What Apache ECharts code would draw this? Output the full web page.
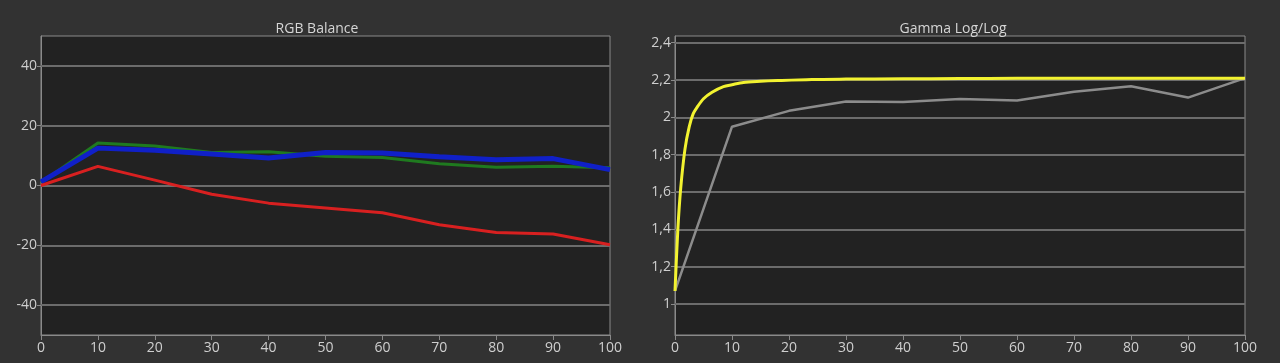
<!DOCTYPE html>
<html><head><meta charset="utf-8">
<script src="https://cdn.jsdelivr.net/npm/echarts@6/dist/echarts.min.js"></script>
<style>html,body{margin:0;padding:0;background:#323232;}#c{width:1280px;height:363px;}</style>
</head><body><div id="c"></div>
<script>
// ---- data ----
const xLevels = [0, 10, 20, 30, 40, 50, 60, 70, 80, 90, 100];
const rgbRed   = [0, 6.4, 1.8, -2.9, -5.9, -7.5, -9.1, -13.1, -15.7, -16.2, -19.8];
const rgbGreen = [1, 14.2, 13.2, 11.0, 11.3, 9.8, 9.4, 7.3, 6.1, 6.4, 5.9];
const rgbBlue  = [1.2, 12.5, 11.8, 10.5, 9.2, 11.0, 10.9, 9.6, 8.6, 9.0, 5.3];
const rgbTicks = [-40, -20, 0, 20, 40];
const gammaMeasured = [1.07, 1.95, 2.035, 2.085, 2.083, 2.098, 2.09, 2.137, 2.167, 2.106, 2.21];
const gammaRefX = [0, 0.5, 1, 1.75, 2.5, 3.2, 4, 5, 6.5, 8.5, 10, 12, 15, 18, 24, 30, 40, 50, 60, 70, 80, 90, 100];
const gammaRefY = [1.07, 1.40, 1.62, 1.83, 1.95, 2.02, 2.06, 2.10, 2.135, 2.165, 2.175, 2.187, 2.193, 2.197, 2.203, 2.205, 2.207, 2.208, 2.209, 2.21, 2.21, 2.21, 2.21];
const gammaTicks = [1, 1.2, 1.4, 1.6, 1.8, 2, 2.2, 2.4];
const titles = ['RGB Balance', 'Gamma Log/Log'];

// ---- chart ----
const labelColor = '#cfcfcf';
const font = '"Open Sans", "Noto Sans", sans-serif';
const gridLine = '#6c6c6c';
function xAxis(gi) {
  return {
    type: 'value', gridIndex: gi, min: 0, max: 100, interval: 10,
    axisLine: { show: true, onZero: false, lineStyle: { color: '#8a8a8a', width: 1 } },
    axisTick: { show: true, length: 5, lineStyle: { color: '#8a8a8a' } },
    axisLabel: { color: labelColor, fontSize: 14, fontFamily: font, margin: 6 },
    splitLine: { show: false }
  };
}
function gridLines(ticks, xi) {
  return {
    type: 'line', xAxisIndex: xi, yAxisIndex: xi, data: [], silent: true,
    markLine: {
      z: 1, silent: true, symbol: ['none', 'none'], label: { show: false },
      lineStyle: { color: gridLine, width: 2, type: 'solid' },
      emphasis: { disabled: true },
      data: ticks.map(t => ({ yAxis: t }))
    }
  };
}
const chart = echarts.init(document.getElementById('c'));
chart.setOption({
  backgroundColor: '#323232',
  animation: false,
  title: [
    { text: titles[0], left: 312, top: 17, textAlign: 'center',
      textStyle: { color: '#d6d6d6', fontSize: 14, fontWeight: 'normal', fontFamily: font } },
    { text: titles[1], left: 948, top: 17, textAlign: 'center',
      textStyle: { color: '#d6d6d6', fontSize: 14, fontWeight: 'normal', fontFamily: font } }
  ],
  grid: [
    { left: 41, right: 670, top: 36, bottom: 28, show: true, backgroundColor: '#222222', borderColor: '#8a8a8a', borderWidth: 1 },
    { left: 675, right: 35, top: 36, bottom: 28, show: true, backgroundColor: '#222222', borderColor: '#8a8a8a', borderWidth: 1 }
  ],
  xAxis: [xAxis(0), xAxis(1)],
  yAxis: [
    { type: 'value', gridIndex: 0, min: -50, max: 50,
      axisLine: { show: true, onZero: false, lineStyle: { color: '#8a8a8a' } },
      axisTick: { show: true, length: 4, customValues: rgbTicks, lineStyle: { color: '#8a8a8a' } },
      axisLabel: { color: labelColor, fontSize: 14, fontFamily: font, margin: 4, customValues: rgbTicks },
      splitLine: { show: false } },
    { type: 'value', gridIndex: 1, min: 0.834, max: 2.436,
      axisLine: { show: true, onZero: false, lineStyle: { color: '#8a8a8a' } },
      axisTick: { show: true, length: 4, customValues: gammaTicks, lineStyle: { color: '#8a8a8a' } },
      axisLabel: { color: labelColor, fontSize: 14, fontFamily: font, margin: 4, customValues: gammaTicks,
        formatter: v => String(Math.round(v * 10) / 10).replace('.', ',') },
      splitLine: { show: false } }
  ],
  series: [
    gridLines(rgbTicks, 0),
    gridLines(gammaTicks, 1),
    { type: 'line', xAxisIndex: 0, yAxisIndex: 0, data: xLevels.map((x, i) => [x, rgbGreen[i]]),
      symbol: 'none', lineStyle: { color: '#1f7a1f', width: 3 }, z: 3 },
    { type: 'line', xAxisIndex: 0, yAxisIndex: 0, data: xLevels.map((x, i) => [x, rgbBlue[i]]),
      symbol: 'none', lineStyle: { color: '#1020c8', width: 5 }, z: 4 },
    { type: 'line', xAxisIndex: 0, yAxisIndex: 0, data: xLevels.map((x, i) => [x, rgbRed[i]]),
      symbol: 'none', lineStyle: { color: '#d82020', width: 3 }, z: 5 },
    { type: 'line', xAxisIndex: 1, yAxisIndex: 1, data: xLevels.map((x, i) => [x, gammaMeasured[i]]),
      symbol: 'none', lineStyle: { color: '#8c8c8c', width: 2.5 }, z: 3 },
    { type: 'line', xAxisIndex: 1, yAxisIndex: 1, data: gammaRefX.map((x, i) => [x, gammaRefY[i]]),
      symbol: 'none', smooth: 0.3, lineStyle: { color: '#f2f230', width: 3 }, z: 4 }
  ]
});
</script></body></html>
